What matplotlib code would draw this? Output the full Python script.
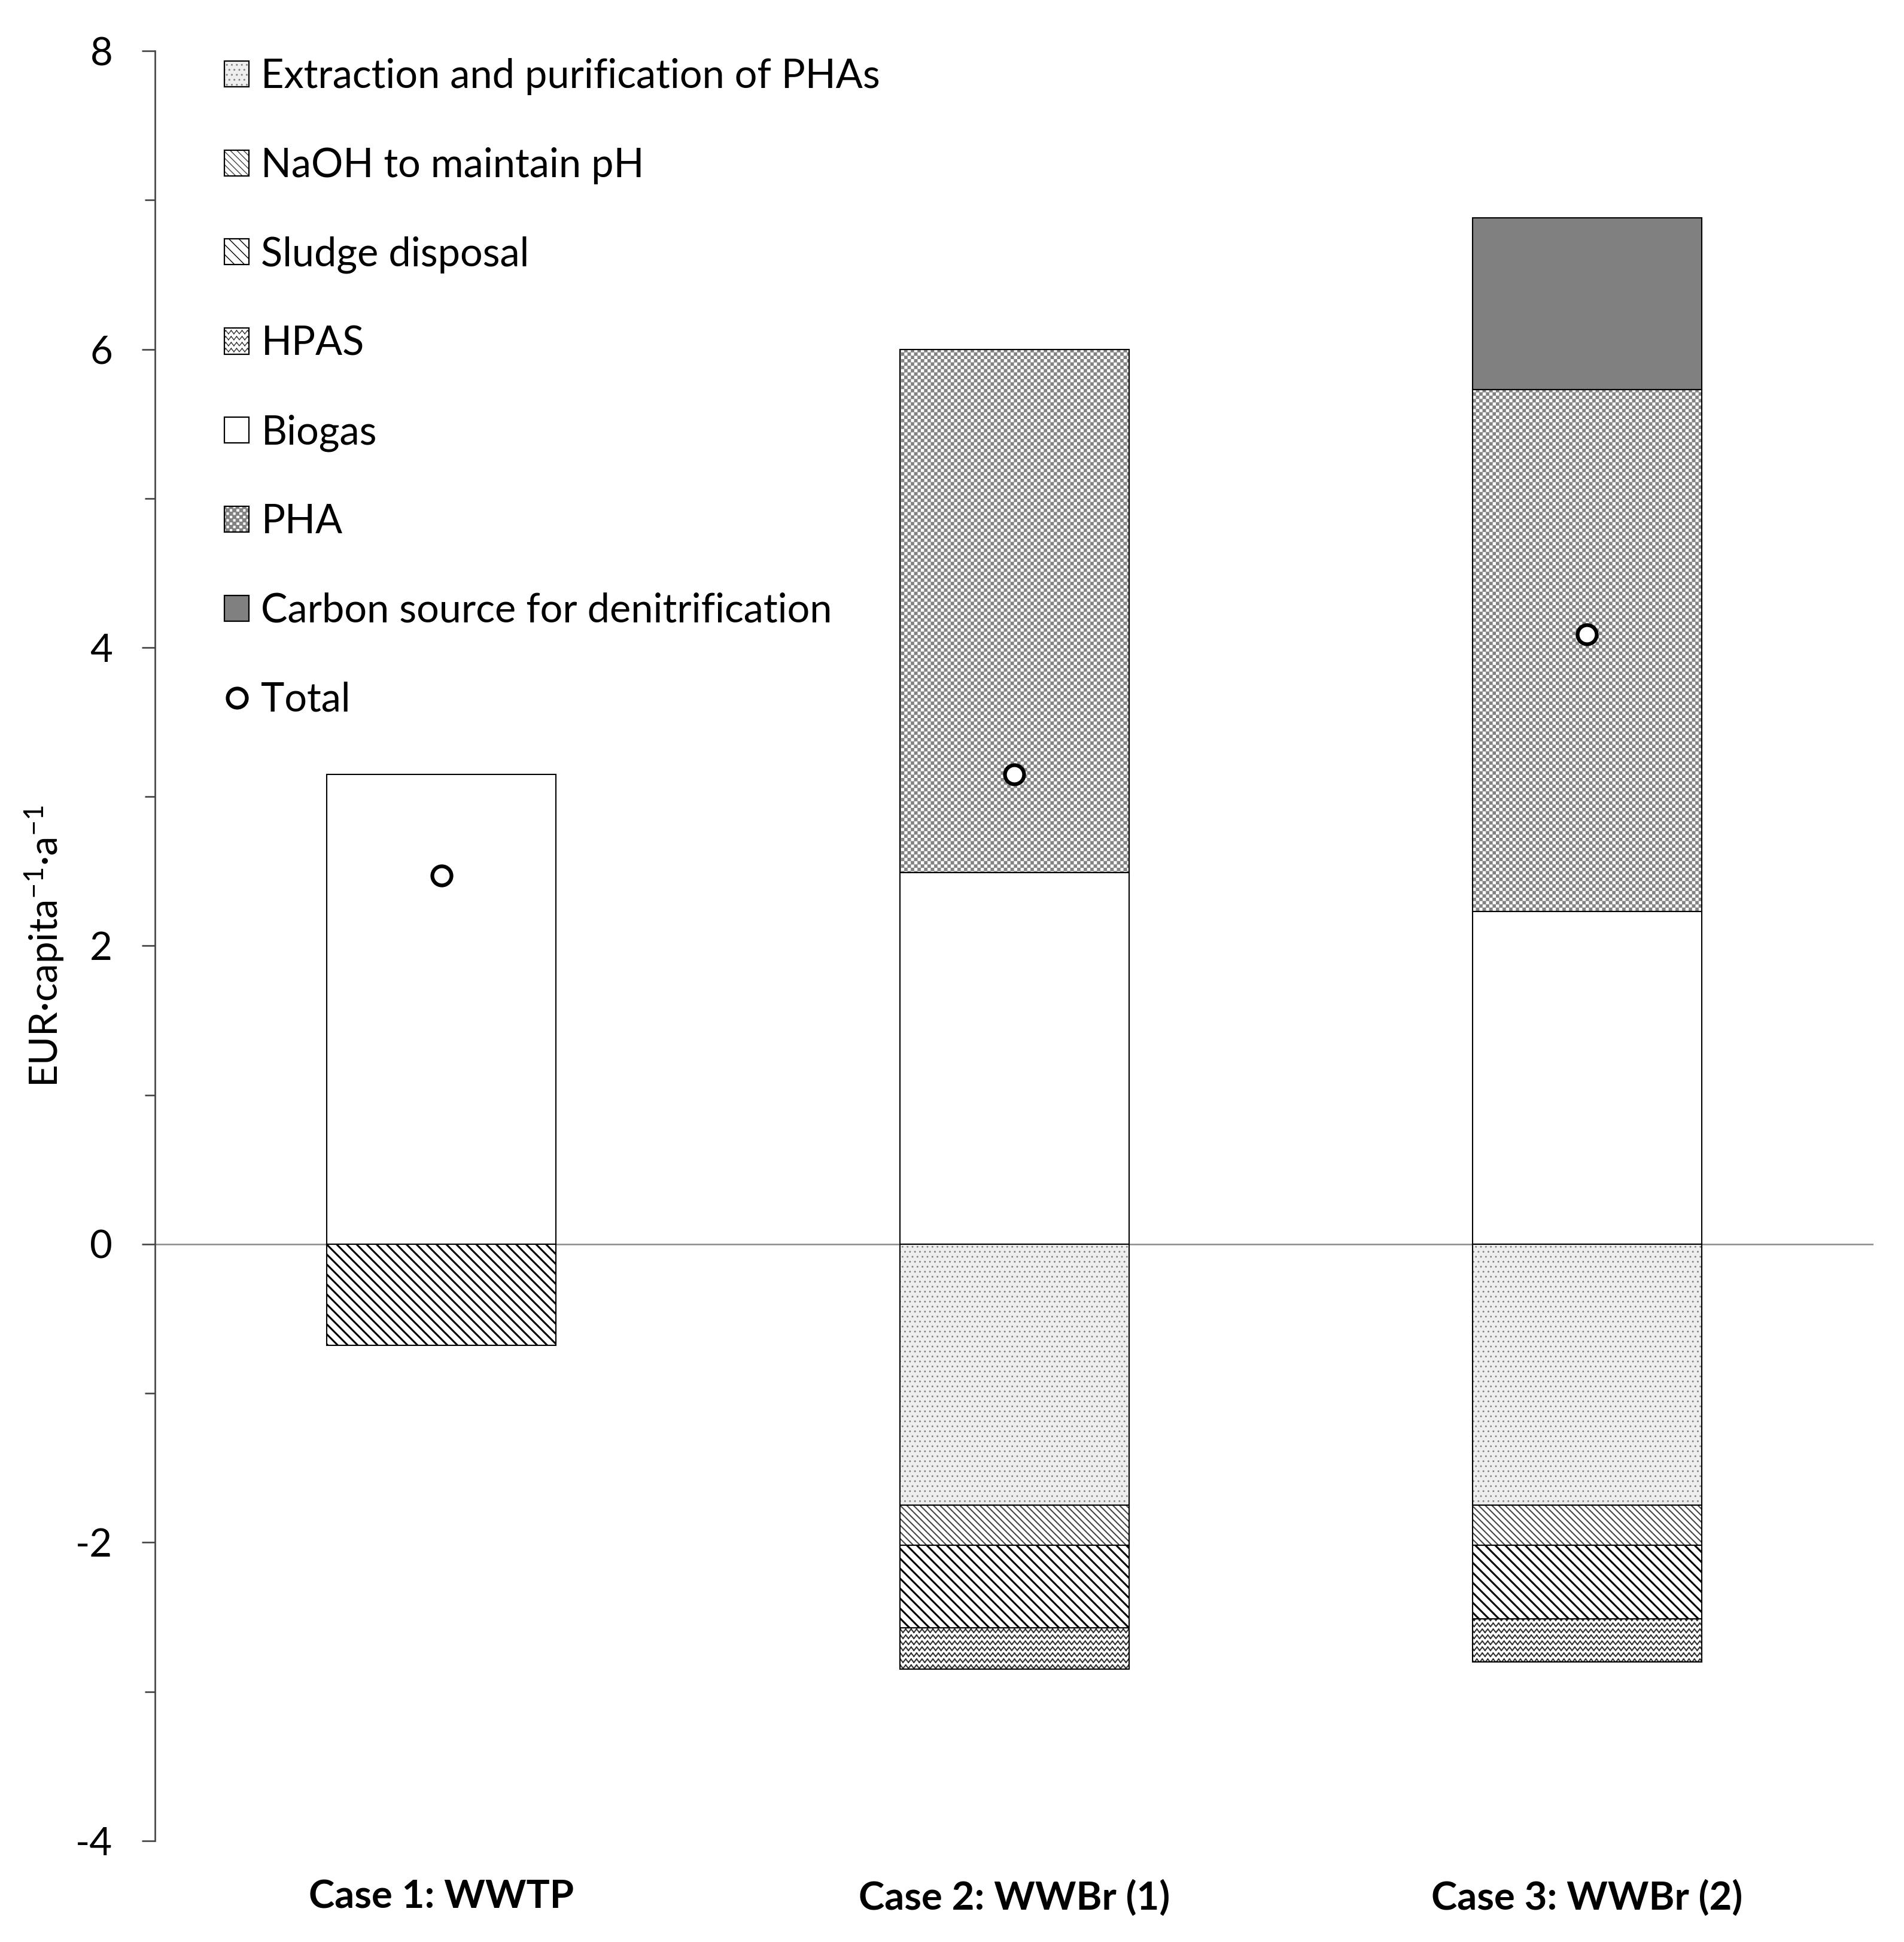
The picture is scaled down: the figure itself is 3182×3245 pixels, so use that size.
import warnings
warnings.filterwarnings('ignore')
import numpy as np
import matplotlib
matplotlib.use('Agg')
import matplotlib.pyplot as plt
import matplotlib.hatch as mhatch
from matplotlib.path import Path
from matplotlib.patches import Patch
from matplotlib.lines import Line2D
from matplotlib.legend_handler import HandlerTuple

# ---------------- data ----------------
cases = ['Case 1: WWTP', 'Case 2: WWBr (1)', 'Case 3: WWBr (2)']
extraction = [0.0, -1.75, -1.75]
naoh = [0.0, -0.27, -0.27]
sludge = [-0.68, -0.55, -0.49]
hpas = [0.0, -0.28, -0.29]
biogas = [3.15, 2.49, 2.23]
pha = [0.0, 3.51, 3.50]
carbon = [0.0, 0.0, 1.15]
total = [2.47, 3.15, 4.09]
yticks = [-4, -2, 0, 2, 4, 6, 8]


# ---------------- custom hatches ----------------
class CheckerHatch(mhatch.HatchPatternBase):
    def __init__(self, hatch, density):
        self.n = 18 if 'c' in hatch else 0
        self.cells = [(i, j) for i in range(self.n) for j in range(self.n)
                      if (i + j) % 2 == 0]
        self.num_vertices = len(self.cells) * 5

    def set_vertices_and_codes(self, vertices, codes):
        s = 1.0 / self.n
        k = 0
        for i, j in self.cells:
            x0, y0 = i * s, j * s
            vertices[k:k + 5] = [(x0, y0), (x0 + s, y0), (x0 + s, y0 + s),
                                 (x0, y0 + s), (x0, y0)]
            codes[k:k + 5] = [Path.MOVETO, Path.LINETO, Path.LINETO,
                              Path.LINETO, Path.CLOSEPOLY]
            k += 5


class ZigZagHatch(mhatch.HatchPatternBase):
    def __init__(self, hatch, density):
        on = 'z' in hatch
        self.rows = 10 if on else 0
        self.teeth = 11
        self.num_vertices = self.rows * self.teeth * 4

    def set_vertices_and_codes(self, vertices, codes):
        dy = 1.0 / self.rows
        dx = 1.0 / self.teeth
        a = 0.28 * dy
        k = 0
        for r in range(self.rows):
            yc = (r + 0.5) * dy
            for t in range(self.teeth):
                x0 = t * dx
                vertices[k:k + 4] = [(x0, yc - a), (x0 + dx / 2, yc + a),
                                     (x0 + dx / 2, yc + a), (x0 + dx, yc - a)]
                codes[k:k + 4] = [Path.MOVETO, Path.LINETO,
                                  Path.MOVETO, Path.LINETO]
                k += 4


mhatch._hatch_types.append(CheckerHatch)
mhatch._hatch_types.append(ZigZagHatch)

plt.rcParams['font.family'] = ['Lato', 'DejaVu Sans']
plt.rcParams['mathtext.fontset'] = 'custom'
plt.rcParams['mathtext.rm'] = 'Lato'
plt.rcParams['mathtext.it'] = 'Lato:italic'
plt.rcParams['mathtext.bf'] = 'Lato:bold'

# style per series: (face, hatch, hatch colour, hatch linewidth)
styles = {
    'Extraction and purification of PHAs': ('#eeeeee', '..', '#808080', 0.9),
    'NaOH to maintain pH': ('white', '\\\\\\', '#454545', 1.5),
    'Sludge disposal': ('white', '\\\\', 'black', 2.2),
    'HPAS': ('white', 'z', '#333333', 1.5),
    'Biogas': ('white', None, 'black', 1.0),
    'PHA': ('white', 'c', '#828282', 0.2),
    'Carbon source for denitrification': ('#808080', None, 'black', 1.0),
}

neg_series = [('Extraction and purification of PHAs', extraction),
              ('NaOH to maintain pH', naoh),
              ('Sludge disposal', sludge),
              ('HPAS', hpas)]
pos_series = [('Biogas', biogas),
              ('PHA', pha),
              ('Carbon source for denitrification', carbon)]

fig = plt.figure(figsize=(31.82, 32.45), dpi=100)
ax = fig.add_axes([0.0814, 0.0521, 0.9026, 0.9217])

x = np.arange(len(cases))
width = 0.4
edge_lw = 1.5


def draw_stack(series):
    bottom = np.zeros(len(cases))
    for name, vals in series:
        vals = np.array(vals)
        face, hatch, hc, hlw = styles[name]
        plt.rcParams['hatch.linewidth'] = hlw
        bars = ax.bar(x, vals, width, bottom=bottom, color=face,
                      hatch=hatch, edgecolor=hc, linewidth=0, zorder=2)
        for b in bars:
            if hasattr(b, 'set_hatch_linewidth'):
                b.set_hatch_linewidth(hlw)
        mask = vals != 0
        ax.bar(x[mask], vals[mask], width, bottom=bottom[mask], fill=False,
               edgecolor='black', linewidth=edge_lw, zorder=3)
        bottom = bottom + vals


draw_stack(neg_series)
draw_stack(pos_series)

ax.axhline(0, color='#8a8a8a', lw=1.8, zorder=1)

ax.plot(x, total, 'o', ms=23, mfc='white', mec='black', mew=4.5,
        zorder=6, linestyle='none')

ax.set_xlim(-0.5, 2.5)
ax.set_ylim(-4, 8)
ax.set_yticks(yticks)
ax.set_yticks([-3, -1, 1, 3, 5, 7], minor=True)
ax.set_yticklabels([str(v) for v in yticks])
ax.set_xticks(x)
ax.set_xticklabels(cases, fontweight='bold', fontsize=47)
ax.tick_params(axis='x', length=0, pad=46.5)
ax.tick_params(axis='y', which='major', direction='out', length=16,
               width=1.9, color='#444444', labelsize=47, pad=35)
ax.tick_params(axis='y', which='minor', direction='out', length=12,
               width=1.9, color='#444444')
for s in ['top', 'right', 'bottom']:
    ax.spines[s].set_visible(False)
ax.spines['left'].set_color('#444444')
ax.spines['left'].set_linewidth(1.9)

ax.set_ylabel('EUR·capita$^{-1}$·a$^{-1}$', fontsize=47)
ax.yaxis.set_label_coords(-0.052, 0.5)

# legend
order = ['Extraction and purification of PHAs', 'NaOH to maintain pH',
         'Sludge disposal', 'HPAS', 'Biogas', 'PHA',
         'Carbon source for denitrification']
handles = []
for name in order:
    face, hatch, hc, hlw = styles[name]
    p1 = Patch(facecolor=face, hatch=hatch, edgecolor=hc, linewidth=0)
    if hasattr(p1, 'set_hatch_linewidth'):
        p1.set_hatch_linewidth(hlw)
    p2 = Patch(fill=False, edgecolor='black', linewidth=1.6)
    handles.append((p1, p2))
tot_handle = Line2D([], [], marker='o', ms=23, mfc='white', mec='black',
                    mew=4.5, linestyle='none')
handles.append(tot_handle)
labels = order + ['Total']
plt.rcParams['hatch.linewidth'] = 1.0
ax.legend(handles, labels, handler_map={tuple: HandlerTuple(ndivide=1)},
          loc='upper left', bbox_to_anchor=(0.0404, 0.996), frameon=False,
          fontsize=48, handlelength=0.62, handleheight=0.62,
          handletextpad=0.3, labelspacing=1.30, borderpad=0,
          borderaxespad=0)

fig.savefig('out.png', dpi=100)
